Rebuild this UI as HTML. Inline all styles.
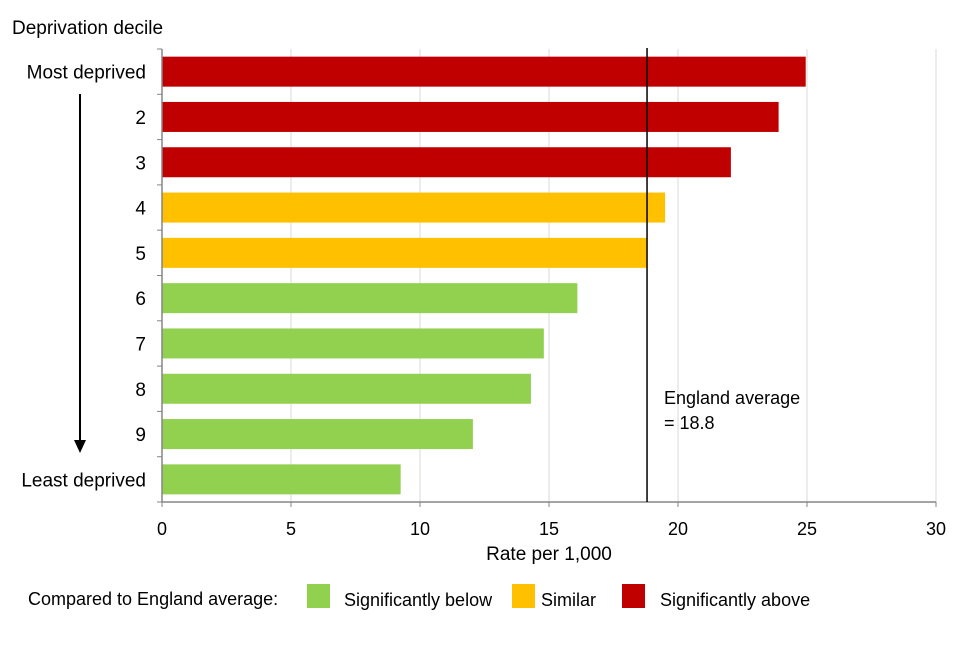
<!DOCTYPE html>
<html><head><meta charset="utf-8"><style>
body{margin:0;background:#fff;font-family:"Liberation Sans",Arial,sans-serif;}
svg text{font-family:"Liberation Sans",Arial,sans-serif;fill:#000;}
</style></head><body>
<svg id="c" width="960" height="640" xmlns="http://www.w3.org/2000/svg">
<rect width="960" height="640" fill="#fff"/>
<g id="grid"></g><g id="bars"></g><g id="axes"></g>
<text x="12" y="34" font-size="19">Deprivation decile</text>
<line x1="80" y1="94" x2="80" y2="442" stroke="#000" stroke-width="2"/>
<path d="M74,440 L80,453 L86,440 Z" fill="#000"/>
<text x="549" y="560" font-size="19" text-anchor="middle">Rate per 1,000</text>
<text x="664" y="404" font-size="18">England average</text>
<text x="664" y="429" font-size="18">= 18.8</text>
<g>
<text x="28" y="605" font-size="18">Compared to England average:</text>
<rect x="307" y="584" width="23" height="24" fill="#92d050"/>
<text x="344" y="606" font-size="18">Significantly below</text>
<rect x="512" y="584" width="23" height="24" fill="#ffc000"/>
<text x="541" y="606" font-size="18">Similar</text>
<rect x="622" y="584" width="23" height="24" fill="#c00000"/>
<text x="660" y="606" font-size="18">Significantly above</text>
</g>
</svg>
<script>
const categories=["Most deprived","2","3","4","5","6","7","8","9","Least deprived"];
const values=[24.95,23.9,22.05,19.5,18.8,16.1,14.8,14.3,12.05,9.25];
const status=["above","above","above","similar","similar","below","below","below","below","below"];
const xTicks=[0,5,10,15,20,25,30];
const englandAverage=18.8;
const colors={above:"#c00000",similar:"#ffc000",below:"#92d050"};
const NS="http://www.w3.org/2000/svg";
const x0=162,x1=936,yTop=49,yBot=502;
const xs=v=>x0+(v/30)*(x1-x0);
const band=(yBot-yTop)/categories.length;
const yc=i=>yTop+band*(i+0.5);
function mk(t,a,p){const e=document.createElementNS(NS,t);for(const k in a)e.setAttribute(k,a[k]);p.appendChild(e);return e;}
const grid=document.getElementById('grid'),bars=document.getElementById('bars'),axes=document.getElementById('axes');
xTicks.forEach(t=>{
 if(t>0){const g=mk('line',{x1:xs(t),x2:xs(t),y1:yTop,y2:yBot,stroke:'#d9d9d9','stroke-width':1},grid);
 
 }
 const tk=mk('line',{x1:xs(t),x2:xs(t),y1:yBot,y2:yBot+5,stroke:'#868686'},axes);
 
 
 const tl=mk('text',{x:xs(t),y:535,'font-size':18,'text-anchor':'middle'},axes);tl.textContent=t;
 
 
});
categories.forEach((c,i)=>{
 const r=mk('rect',{x:x0,y:yc(i)-15,width:xs(values[i])-x0,height:30,fill:colors[status[i]]},bars);
 
 
 const l=mk('text',{x:146,y:yc(i)+7,'font-size':19,'text-anchor':'end'},axes);l.textContent=c;
 
 
});
for(let i=0;i<=categories.length;i++){const t=mk('line',{x1:x0-5,x2:x0,y1:yTop+band*i,y2:yTop+band*i,stroke:'#868686'},axes);
 
 }
const ya=mk('line',{x1:x0,x2:x0,y1:yTop,y2:yBot,stroke:'#868686','stroke-width':1.5},axes);


const xa=mk('line',{x1:x0,x2:x1,y1:yBot,y2:yBot,stroke:'#868686','stroke-width':1.5},axes);


const av=mk('line',{x1:xs(englandAverage),x2:xs(englandAverage),y1:yTop-1,y2:yBot,stroke:'#000','stroke-width':1.5},axes);


</script>
</body></html>
